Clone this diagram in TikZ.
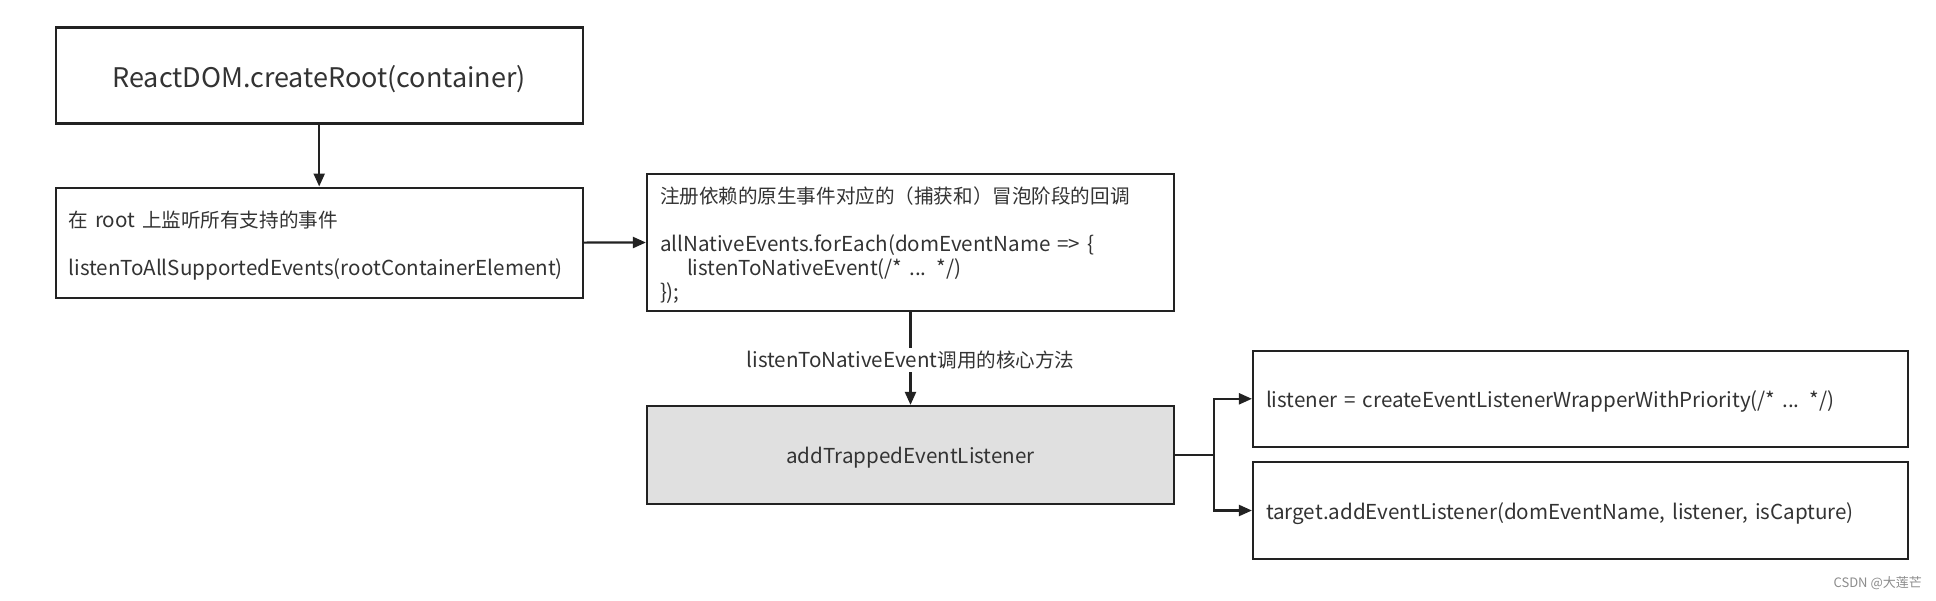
\documentclass[tikz,border=0pt]{standalone}
\usepackage{fontspec}
\setmainfont{Noto Sans CJK SC}
\newfontfamily\cjk[Scale=0.95]{Noto Sans CJK SC}
\usetikzlibrary{arrows.meta}
\definecolor{boxline}{HTML}{222222}
\definecolor{boxtext}{HTML}{333333}
\definecolor{grayfill}{HTML}{E0E0E0}
\newcommand{\topstrut}[1]{\rule{0pt}{#1}}
\begin{document}
\begin{tikzpicture}[x=1pt,y=-1pt,
  box/.style={draw=boxline, line width=2.2pt, inner sep=0pt, text=boxtext, font=\fontsize{20.6}{24}\selectfont},
  leftbox/.style={box, align=left, inner xsep=13pt},
  conn/.style={draw=boxline, line width=2.2pt, -{Triangle[length=13pt,width=11pt]}},
  plain/.style={draw=boxline, line width=2.2pt}]
\useasboundingbox[fill=white] (0,0) rectangle (1936,600);

\node[box, minimum width=527pt, minimum height=96pt, font=\fontsize{27}{32}\selectfont] (n1) at (319.2,75.4) {\topstrut{28.5pt}ReactDOM.createRoot(container)};

\node[leftbox, minimum width=527pt, minimum height=110pt, text width=501pt] (n2) at (319.2,242.6)
  {\topstrut{23pt}{\cjk 在} root {\cjk 上监听所有支持的事件}\\[24pt]listenToAllSupportedEvents(rootContainerElement)};

\node[leftbox, minimum width=527pt, minimum height=137pt, text width=501pt] (n3) at (910.5,242.5)
  {\topstrut{23pt}{\cjk 注册依赖的原生事件对应的（捕获和）冒泡阶段的回调}\\[24pt]allNativeEvents.forEach(domEventName => \{\\\hspace*{27pt}listenToNativeEvent(/* ... */)\\\});};

\node[box, fill=grayfill, minimum width=527pt, minimum height=98pt] (n4) at (910.5,455) {\topstrut{21pt}addTrappedEventListener};

\node[leftbox, minimum width=655pt, minimum height=96pt, text width=629pt] (n5) at (1580.5,398.8)
  {\topstrut{23pt}listener = createEventListenerWrapperWithPriority(/* ... */)};

\node[leftbox, minimum width=655pt, minimum height=97pt, text width=629pt] (n6) at (1580.5,510.5)
  {\topstrut{23pt}target.addEventListener(domEventName, listener, isCapture)};

\draw[conn] (n1.south) -- (n2.north);
\draw[conn] (n2.east) -- (n3.west);
\draw[conn] (n3.south) -- node[fill=white, inner sep=3pt, text=boxtext, font=\fontsize{20.6}{24}\selectfont, pos=0.52] (lab) {listenToNativeEvent{\cjk 调用的核心方法}} (n4.north);

\coordinate (j) at (1213.7,455);
\draw[plain] (n4.east) -- (j);
\draw[conn] (j) |- (n5.west);
\draw[conn] (j) |- (n6.west);

\node[anchor=east, text=black!45, font=\fontsize{13}{15}\selectfont, inner sep=0pt] (wm) at (1922,583) {CSDN @大莲芒};
\end{tikzpicture}
\end{document}
